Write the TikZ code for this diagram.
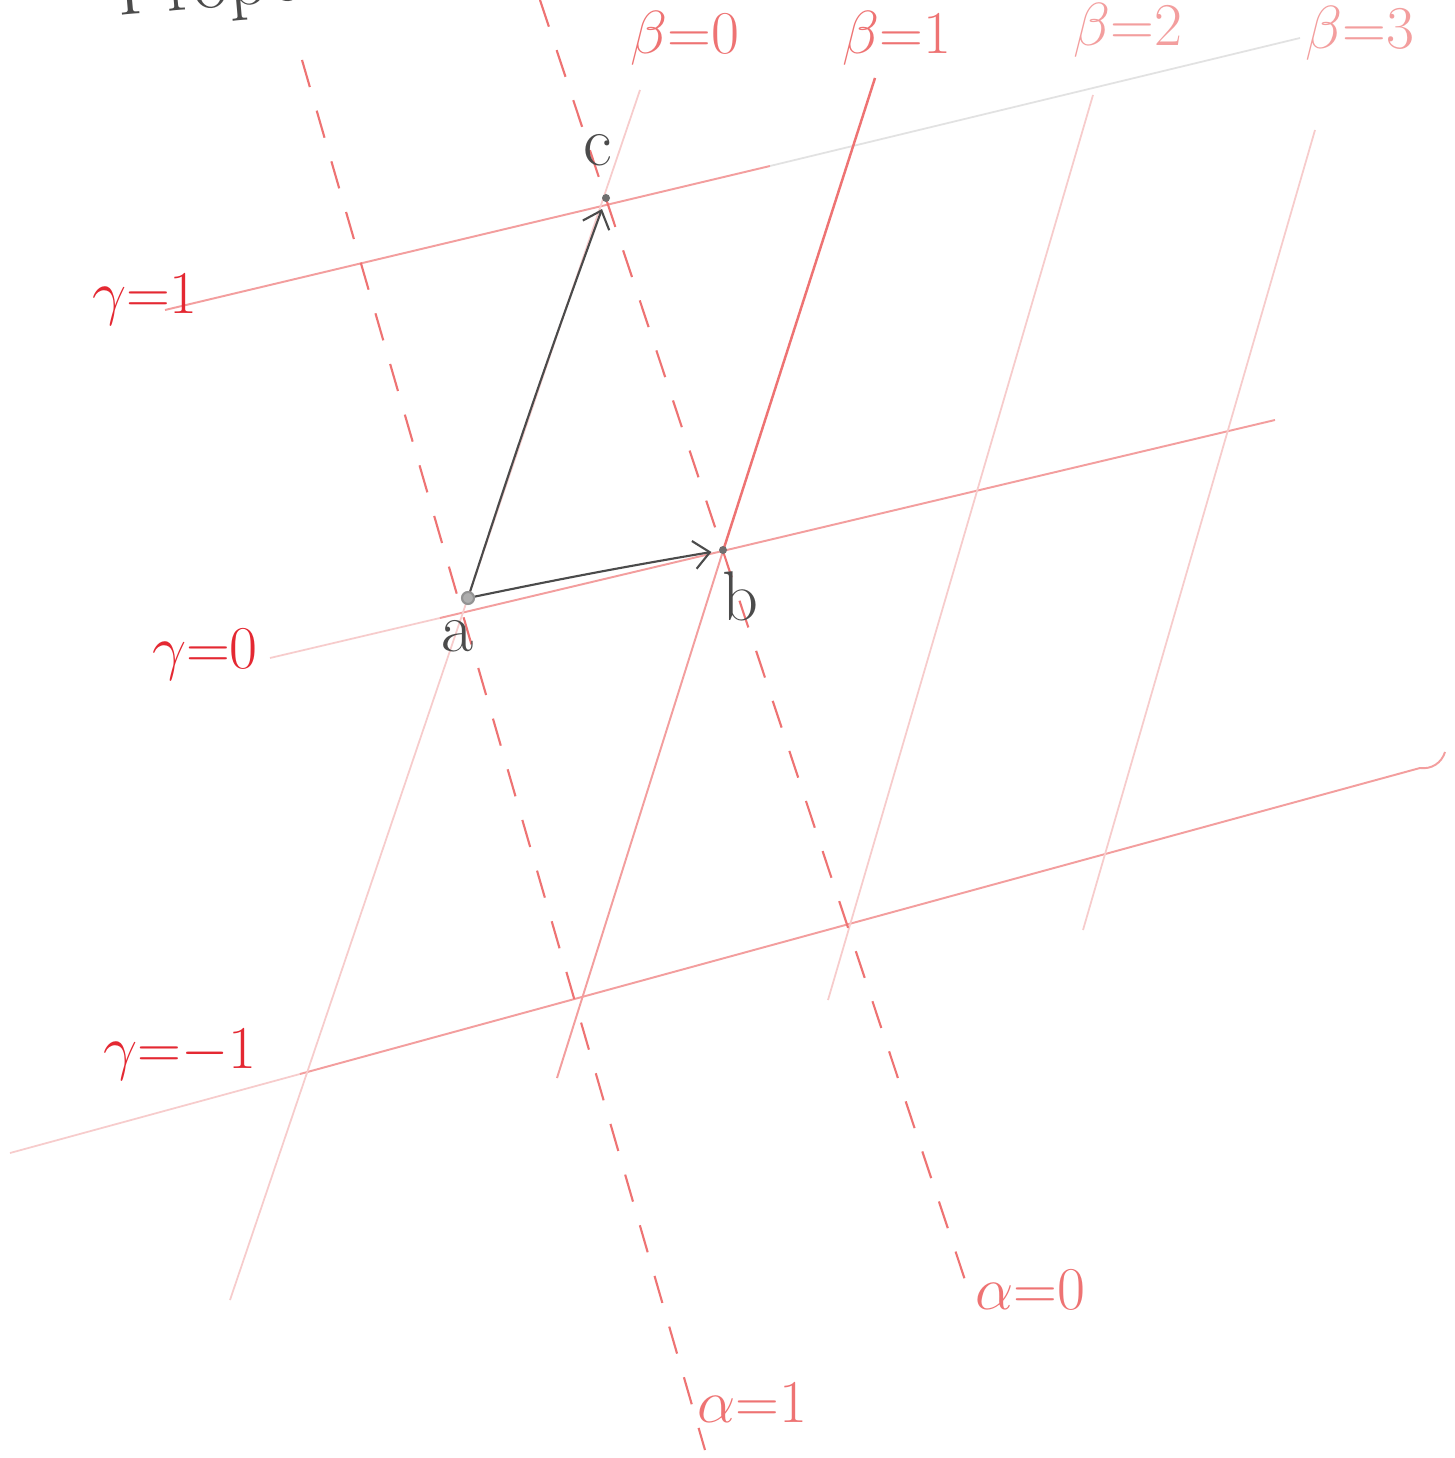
\documentclass[tikz,border=0pt]{standalone}
\usetikzlibrary{arrows.meta}
\definecolor{labred}{RGB}{228,40,50}
\definecolor{softred}{RGB}{238,115,115}
\definecolor{linered}{RGB}{243,158,158}
\definecolor{faintred}{RGB}{247,204,204}
\definecolor{faintgray}{RGB}{226,226,226}
\definecolor{pencil}{RGB}{75,75,75}
\begin{document}
\begin{tikzpicture}[x=0.01cm,y=-0.01cm,
  gridline/.style={draw=linered,line width=0.55pt},
  strongline/.style={draw=softred,line width=0.7pt},
  faintline/.style={draw=faintred,line width=0.5pt},
  grayline/.style={draw=faintgray,line width=0.5pt},
  dashline/.style={draw=softred,line width=0.6pt,dash pattern=on 8pt off 7pt},
  gl/.style={text=labred,font=\fontsize{18}{20}\selectfont,inner sep=1pt},
  bl/.style={text=softred,font=\fontsize{16}{18}\selectfont,inner sep=1pt},
  al/.style={text=softred,font=\fontsize{17}{19}\selectfont,inner sep=1pt},
  ptlabel/.style={text=pencil,font=\fontsize{20}{22}\selectfont,inner sep=1pt},
  ptdot/.style={circle,fill=pencil!80,inner sep=0pt,minimum size=0.08cm},
  arr/.style={draw=pencil,line width=0.6pt,-{Straight Barb[length=4.5pt,width=8pt]},shorten >=2pt}
]
\useasboundingbox (0,0) rectangle (1454,1458);
\fill[white] (0,0) rectangle (1454,1458);

% title (cut off at the top, as in the sketch)
\node[anchor=base west,rotate=5,text=pencil,font=\fontsize{22}{24}\selectfont,inner sep=0pt] (title) at (118,16) {Properties};

% gamma lines
\coordinate (g1l) at (165,310); \coordinate (g1m) at (770,166); \coordinate (g1r) at (1300,38);
\draw[gridline] (g1l) -- (g1m);
\draw[grayline] (g1m) -- (g1r);
\coordinate (g0l) at (270,658); \coordinate (g0m) at (440,618); \coordinate (g0r) at (1275,420);
\draw[faintline] (g0l) -- (g0m);
\draw[gridline] (g0m) -- (g0r);
\coordinate (gml) at (10,1153); \coordinate (gmm) at (300,1074); \coordinate (gmr) at (1420,768); \coordinate (gmh) at (1445,752);
\draw[faintline] (gml) -- (gmm);
\draw[gridline] (gmm) -- (gmr) to[bend right=40] (gmh);

% beta lines
\coordinate (b0t) at (640,90); \coordinate (b0b) at (230,1300);
\draw[faintline] (b0t) -- (b0b);
\coordinate (b1t) at (875,78); \coordinate (b1m) at (723,551); \coordinate (b1b) at (557,1078);
\draw[strongline] (b1t) -- (b1m);
\draw[gridline] (b1m) -- (b1b);
\coordinate (b2t) at (1093,95); \coordinate (b2b) at (828,1000);
\draw[faintline] (b2t) -- (b2b);
\coordinate (b3t) at (1315,130); \coordinate (b3b) at (1083,930);
\draw[faintline] (b3t) -- (b3b);

% alpha lines (dashed)
\coordinate (a0t) at (540,0); \coordinate (a0b) at (965,1280);
\draw[dashline] (a0t) -- (a0b);
\coordinate (a1t) at (302,60); \coordinate (a1b) at (705,1450);
\draw[dashline] (a1t) -- (a1b);

% labels
\node[bl] (lb0) at (685,38) {$\beta{=}0$};
\node[bl] (lb1) at (897,38) {$\beta{=}1$};
\node[bl,text=linered] (lb2) at (1128,30) {$\beta{=}2$};
\node[bl,text=linered] (lb3) at (1360,33) {$\beta{=}3$};
\node[gl] (lg1) at (145,300) {$\gamma{=}1$};
\node[gl] (lg0) at (205,655) {$\gamma{=}0$};
\node[gl] (lgm) at (180,1055) {$\gamma{=}{-}1$};
\node[al] (la0) at (1030,1290) {$\alpha{=}0$};
\node[al] (la1) at (752,1403) {$\alpha{=}1$};

% points
\node[ptdot,draw=pencil!60,line width=0.6pt,minimum size=0.12cm,fill=pencil!45] (a) at (468,598) {};
\node[ptdot] (b) at (723,550) {};
\node[ptdot] (c) at (606,198) {};
\node[ptlabel] (la) at (458,636) {a};
\node[ptlabel] (lb) at (740,596) {b};
\node[ptlabel] (lc) at (598,150) {c};

% vectors
\draw[arr] (a) to[bend left=1] (b);
\draw[arr] (a) to[bend left=1] (c);
\end{tikzpicture}
\end{document}
